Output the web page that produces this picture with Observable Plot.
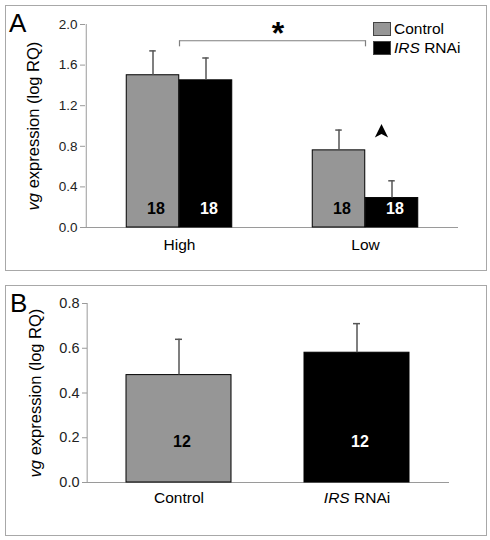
<!DOCTYPE html>
<html><head><meta charset="utf-8">
<script src="https://cdn.jsdelivr.net/npm/d3@7"></script>
<script src="https://cdn.jsdelivr.net/npm/@observablehq/plot@0.6"></script>
<style>
body{margin:0;background:#fff;font-family:"Liberation Sans",Arial,sans-serif;}
#root{position:relative;width:490px;height:540px;overflow:hidden;background:#fff;}
.panel{position:absolute;border:1px solid #a8a8a8;box-sizing:border-box;}
.letter{position:absolute;font-size:26px;line-height:26px;color:#000;}
.chart{position:absolute;left:0;}
.legend{position:absolute;left:373px;top:22px;font-size:15.5px;color:#000;}
.legend .row{display:flex;align-items:center;height:14px;margin-bottom:4.5px;}
.legend .sw{width:18px;height:14px;box-sizing:border-box;border:1px solid #444;margin-right:3px;}
svg g[aria-label="y-axis tick"] path{stroke:#9a9a9a;}
</style></head>
<body><div id="root">
<div class="panel" style="left:5px;top:5px;width:482px;height:266px"></div>
<div class="panel" style="left:5px;top:285px;width:482px;height:251px"></div>
<div id="chartA" class="chart" style="top:0px"></div>
<div id="chartB" class="chart" style="top:280px"></div>
<div class="letter" style="left:9px;top:10px">A</div>
<div class="letter" style="left:10px;top:290px">B</div>
<div class="legend" id="legend"></div>
</div>
<script>
// ---------- Panel A data ----------
const groupsA = ["High", "Low"];
const seriesNames = ["Control", "IRS RNAi"];
const seriesColors = ["#969696", "#000000"];
const controlMeanA = [1.50, 0.76];
const controlUpperA = [1.74, 0.96];
const rnaiMeanA = [1.45, 0.29];
const rnaiUpperA = [1.67, 0.46];
const controlNA = [18, 18];
const rnaiNA = [18, 18];
const yTicksA = [0, 0.4, 0.8, 1.2, 1.6, 2.0];
const bracketGroupsA = ["High", "Low"];
const bracketTopA = [1.84];
const bracketFootA = [1.78];
const starLabelA = ["*"];
const arrowGroupA = ["Low"];
const arrowYA = [0.95];

// ---------- Panel B data ----------
const categoriesB = ["Control", "IRS RNAi"];
const meanB = [0.48, 0.58];
const upperB = [0.64, 0.71];
const nB = [12, 12];
const yTicksB = [0, 0.2, 0.4, 0.6, 0.8];

const yLabel = "vg expression (log RQ)";
const FONT = "Liberation Sans, Arial, sans-serif";
const AXIS = "#9a9a9a";
const ERR = "#555555";

// ---------- Panel A ----------
const W = 490;
const mlA = 85, mrA = 32, mtA = 24, mbA = 48, HA = 275;
const bwA = (W - mlA - mrA) / groupsA.length;
const barW = 53;

const dataA = groupsA.flatMap((g, i) => [
  {group: g, series: seriesNames[0], mean: controlMeanA[i], upper: controlUpperA[i], n: controlNA[i]},
  {group: g, series: seriesNames[1], mean: rnaiMeanA[i], upper: rnaiUpperA[i], n: rnaiNA[i]}
]);
const ctrlA = dataA.filter(d => d.series === seriesNames[0]);
const rnaiA = dataA.filter(d => d.series === seriesNames[1]);

const arrowSymbol = {
  draw(ctx, size) {
    const r = Math.sqrt(size / Math.PI);
    ctx.moveTo(0, -r);
    ctx.lineTo(r * 0.95, r * 0.9);
    ctx.lineTo(0, r * 0.4);
    ctx.lineTo(-r * 0.95, r * 0.9);
    ctx.closePath();
  }
};

function seriesMarks(sub, side, fill, textFill, bw, bottomDy, numDx) {
  return [
    Plot.barY(sub, {x: "group", y: "mean", fill, stroke: "#000", strokeWidth: 1,
      insetLeft: side < 0 ? bw / 2 - barW : bw / 2,
      insetRight: side < 0 ? bw / 2 : bw / 2 - barW}),
    Plot.ruleX(sub, {x: "group", y1: "mean", y2: "upper", dx: side * barW / 2, stroke: ERR, strokeWidth: 1.5}),
    Plot.tickY(sub, {x: "group", y: "upper", dx: side * barW / 2, insetLeft: bw / 2 - 3.5, insetRight: bw / 2 - 3.5, stroke: ERR, strokeWidth: 1.5}),
    Plot.text(sub, {x: "group", text: "n", frameAnchor: "bottom", dy: bottomDy, dx: side * barW / 2 + numDx,
      fill: textFill, fontWeight: "bold", fontSize: 16})
  ];
}

const plotA = Plot.plot({
  width: W, height: HA,
  marginLeft: mlA, marginRight: mrA, marginTop: mtA, marginBottom: mbA,
  style: {fontFamily: FONT, fontSize: "13.5px", color: "#222", background: "transparent"},
  x: {domain: groupsA, padding: 0},
  y: {domain: [0, 2.0]},
  marks: [
    Plot.ruleY([0], {stroke: AXIS}),
    Plot.ruleX(groupsA.slice(0, 1), {x: d => d, dx: -bwA / 2, stroke: AXIS}),
    Plot.axisY({ticks: yTicksA, tickFormat: d3.format(".1f"), tickSize: 5, tickPadding: 3,
      label: yLabel, labelAnchor: "center", labelOffset: 58}),
    Plot.axisX({tickSize: 0, tickPadding: 11, fontSize: 15.5, label: null}),
    ...seriesMarks(ctrlA, -1, seriesColors[0], "#000", bwA, -14, 3),
    ...seriesMarks(rnaiA, 1, seriesColors[1], "#fff", bwA, -14, 3),
    Plot.link([bracketGroupsA], {x1: d => d[0], x2: d => d[1], y1: () => bracketTopA[0], y2: () => bracketTopA[0], stroke: "#7f7f7f", strokeWidth: 1.2}),
    Plot.ruleX(bracketGroupsA, {x: d => d, y1: () => bracketFootA[0], y2: () => bracketTopA[0], stroke: "#7f7f7f", strokeWidth: 1.2}),
    Plot.text(starLabelA, {text: d => d, frameAnchor: "top", dx: 6, dy: -3, fontSize: 32, fontWeight: "bold", fill: "#000"}),
    Plot.dot(arrowGroupA.map((g, i) => ({group: g, y: arrowYA[i]})), {x: "group", y: "y", dx: 16, symbol: arrowSymbol, r: 7, fill: "#000", stroke: "none"})
  ]
});
document.getElementById("chartA").appendChild(plotA);

// ---------- Panel B ----------
const mlB = 87, mrB = 41, mtB = 23, mbB = 58, HB = 260;
const xOptsB = {domain: categoriesB, paddingInner: 0.41, paddingOuter: 0.22};
const sxB = Plot.scale({x: {...xOptsB, type: "band", range: [mlB, W - mrB]}});
const firstCenterB = sxB.apply(categoriesB[0]) + sxB.bandwidth / 2;
const dataB = categoriesB.map((c, i) => ({cat: c, mean: meanB[i], upper: upperB[i], n: nB[i], color: seriesColors[i], tcolor: i === 0 ? "#000" : "#fff"}));
const plotB = Plot.plot({
  width: W, height: HB,
  marginLeft: mlB, marginRight: mrB, marginTop: mtB, marginBottom: mbB,
  style: {fontFamily: FONT, fontSize: "14.5px", color: "#222", background: "transparent"},
  x: xOptsB,
  y: {domain: [0, 0.8]},
  marks: [
    Plot.ruleY([0], {stroke: AXIS}),
    Plot.ruleX(categoriesB.slice(0, 1), {x: d => d, dx: mlB - firstCenterB, stroke: AXIS}),
    Plot.axisY({ticks: yTicksB, tickFormat: d3.format(".1f"), tickSize: 5, tickPadding: 3,
      label: yLabel, labelAnchor: "center", labelOffset: 58}),
    Plot.axisX({tickSize: 0, tickPadding: 9.5, fontSize: 15.5, label: null}),
    Plot.barY(dataB, {x: "cat", y: "mean", fill: "color", stroke: "#000", strokeWidth: 1}),
    Plot.ruleX(dataB, {x: "cat", y1: "mean", y2: "upper", stroke: ERR, strokeWidth: 1.5}),
    Plot.tickY(dataB, {x: "cat", y: "upper", insetLeft: 49, insetRight: 49, stroke: ERR, strokeWidth: 1.5}),
    Plot.text(dataB, {x: "cat", text: "n", frameAnchor: "bottom", dy: -36, dx: 3, fill: "tcolor", fontWeight: "bold", fontSize: 16})
  ]
});
document.getElementById("chartB").appendChild(plotB);

// ---------- Post-processing: italics ----------
function italicLabel(svg) {
  d3.select(svg).selectAll('g[aria-label="y-axis label"] text').each(function () {
    const t = d3.select(this);
    t.text(null);
    t.append("tspan").attr("font-style", "italic").text("vg");
    t.append("tspan").text(" expression (log RQ)");
    t.attr("font-size", "16.5px").attr("fill", "#000");
  });
}
italicLabel(plotA); italicLabel(plotB);
d3.select(plotB).selectAll('g[aria-label="x-axis tick label"] text').each(function () {
  const t = d3.select(this);
  if (t.text() === "IRS RNAi") {
    t.text(null);
    t.append("tspan").attr("font-style", "italic").text("IRS");
    t.append("tspan").text(" RNAi");
  }
});
for (const svg of [plotA, plotB]) {
  d3.select(svg).selectAll('g[aria-label="x-axis tick label"] text').attr("fill", "#000");
}

// ---------- Legend ----------
const legend = d3.select("#legend");
seriesNames.forEach((s, i) => {
  const row = legend.append("div").attr("class", "row");
  row.append("div").attr("class", "sw").style("background", seriesColors[i]);
  const lab = row.append("span");
  if (s.startsWith("IRS")) { lab.append("i").text("IRS"); lab.append("span").text(" RNAi"); }
  else lab.text(s);
});
</script>
</body></html>
